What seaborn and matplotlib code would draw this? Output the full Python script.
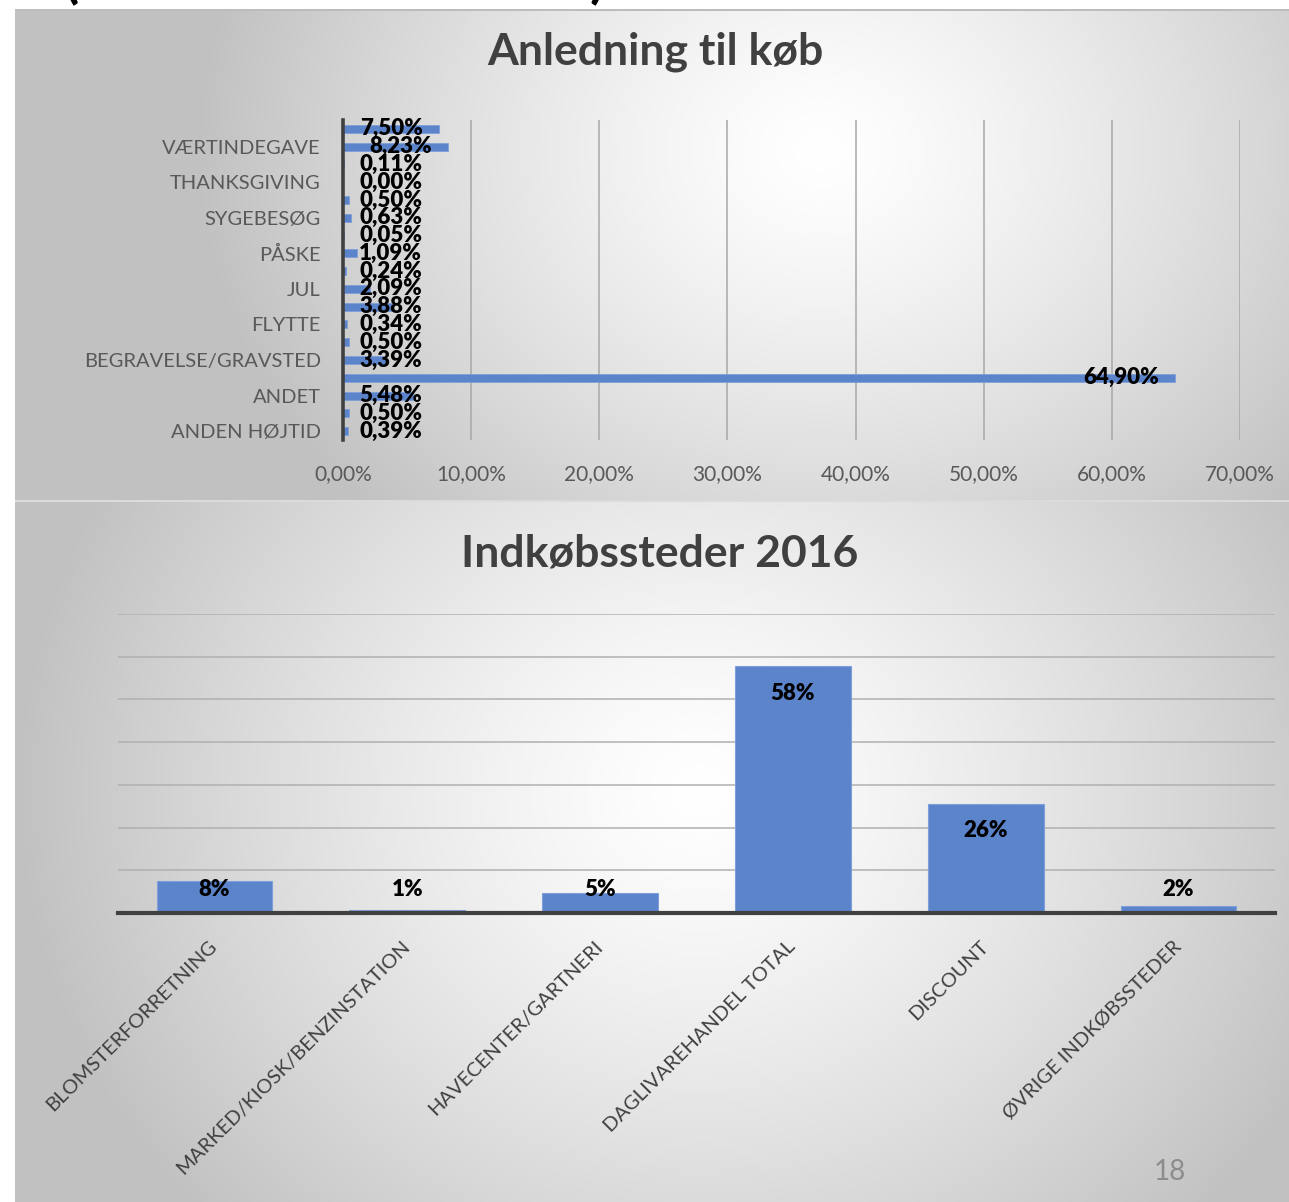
import numpy as np
import pandas as pd
import matplotlib.pyplot as plt
import seaborn as sns

# -------- DATA --------
# top chart, bars listed from top to bottom (only every second category is labelled)
anledning_labels = ["", "VÆRTINDEGAVE", "", "THANKSGIVING", "", "SYGEBESØG", "", "PÅSKE", "",
                    "JUL", "", "FLYTTE", "", "BEGRAVELSE/GRAVSTED", "", "ANDET", "", "ANDEN HØJTID"]
anledning_values = [7.50, 8.23, 0.11, 0.00, 0.50, 0.63, 0.05, 1.09, 0.24,
                    2.09, 3.88, 0.34, 0.50, 3.39, 64.90, 5.48, 0.50, 0.39]
anledning_ticks = [0, 10, 20, 30, 40, 50, 60, 70]

# bottom chart
steder = ["BLOMSTERFORRETNING", "MARKED/KIOSK/BENZINSTATION", "HAVECENTER/GARTNERI",
          "DAGLIVAREHANDEL TOTAL", "DISCOUNT", "ØVRIGE INDKØBSSTEDER"]
steder_values = [7.6, 0.7, 4.6, 57.8, 25.6, 1.6]
steder_grid = [10, 20, 30, 40, 50, 60, 70]

# -------- STYLE --------
BLUE = "#5b84cb"
DARK = "#404040"
TICK = "#595959"
W, H = 1289, 1202

sns.set_style("white")
plt.rcParams["font.family"] = ["Lato", "DejaVu Sans"]

fig = plt.figure(figsize=(W / 100, H / 100), dpi=100)

# -------- BACKGROUND (two slide panels with radial gradient) --------
yy, xx = np.mgrid[0:H, 0:W]
bg = np.ones((H, W))

def panel(y0, y1, cx, cy, rx, ry, gray=0.76):
    d = np.sqrt(((xx - cx) / rx) ** 2 + ((yy - cy) / ry) ** 2)
    v = 1 - (1 - gray) * np.clip(d, 0, 1) ** 1.3
    m = (yy >= y0) & (yy < y1) & (xx >= 15)
    bg[m] = v[m]

panel(9, 501, 820, 150, 620, 520)
panel(502, H, 700, 790, 680, 620)
bg[9:11, 15:] = 0.74
bg[500:502, 15:] = 0.86

axbg = fig.add_axes([0, 0, 1, 1], zorder=-5)
axbg.imshow(np.dstack([bg, bg, bg]), aspect="auto", extent=(0, W, H, 0), interpolation="bilinear")
axbg.axis("off")

# fragments of a heading cut off above the slide (cut off in the reference too)
fig.text(72 / W, 1 + 3 / H, "(", fontsize=40, fontweight="bold", color="black", va="baseline", ha="center")
fig.text(597 / W, 1 + 3 / H, ")", fontsize=40, fontweight="bold", color="black", va="baseline", ha="center")

# -------- TOP CHART: Anledning til køb --------
ax1 = fig.add_axes([343 / W, 1 - 440 / H, (1240 - 343) / W, 320 / H])
ax1.patch.set_alpha(0)
df1 = pd.DataFrame({"key": [f"k{i}" for i in range(len(anledning_values))], "pct": anledning_values})
sns.barplot(data=df1, x="pct", y="key", orient="h", color=BLUE, saturation=1, width=0.45,
            edgecolor="#7f9fd8", linewidth=0.6, ax=ax1)

ax1.set_xlim(0, 70)
ax1.set_xticks(anledning_ticks)
ax1.set_xticklabels([f"{t:.2f}%".replace(".", ",") for t in anledning_ticks])
ax1.set_yticks(range(len(anledning_labels)))
ax1.set_yticklabels(anledning_labels)
ax1.set_xlabel("")
ax1.set_ylabel("")
for t in anledning_ticks[1:]:
    ax1.axvline(t, color="#a8a8a8", lw=1.1, zorder=0)
for s in ["top", "right", "bottom"]:
    ax1.spines[s].set_visible(False)
ax1.spines["left"].set_color(DARK)
ax1.spines["left"].set_linewidth(2.6)
ax1.tick_params(axis="y", length=0, pad=16, labelsize=14.5, labelcolor=TICK)
ax1.tick_params(axis="x", length=0, pad=17, labelsize=15, labelcolor=TICK)

for i, v in enumerate(anledning_values):
    txt = f"{v:.2f}%".replace(".", ",")
    if v > 6:
        ax1.text(v - 1.25, i, txt, ha="right", va="center", fontsize=16, fontweight="heavy", color="black")
    else:
        ax1.text(1.25, i, txt, ha="left", va="center", fontsize=16, fontweight="heavy", color="black")

fig.text(655 / W, 1 - 52 / H, "Anledning til køb", ha="center", va="center",
         fontsize=32, fontweight="bold", color=DARK)

# -------- BOTTOM CHART: Indkøbssteder 2016 --------
ax2 = fig.add_axes([118 / W, 1 - 913 / H, (1275 - 118) / W, (913 - 614) / H])
ax2.patch.set_alpha(0)
df2 = pd.DataFrame({"sted": steder, "pct": steder_values})
sns.barplot(data=df2, x="sted", y="pct", color=BLUE, saturation=1, width=0.6,
            edgecolor="#7f9fd8", linewidth=0.8, ax=ax2)

ax2.set_ylim(0, 70)
ax2.set_xlim(-0.5, len(steder) - 0.5)
ax2.set_yticks([])
ax2.set_xlabel("")
ax2.set_ylabel("")
for g in steder_grid:
    ax2.axhline(g, color="#b0b0b0", lw=1.1, zorder=0)
for s in ["top", "right", "left"]:
    ax2.spines[s].set_visible(False)
ax2.spines["bottom"].set_color(DARK)
ax2.spines["bottom"].set_linewidth(3)
ax2.set_xticks(range(len(steder)))
ax2.set_xticklabels(steder, rotation=45, ha="right", va="center", rotation_mode="anchor")
ax2.tick_params(axis="x", length=0, pad=22, labelsize=14.5, labelcolor=DARK)

for i, v in enumerate(steder_values):
    ax2.text(i, max(v - 6.3, 5.6), f"{v:.0f}%", ha="center", va="center",
             fontsize=16, fontweight="heavy", color="black")

fig.text(660 / W, 1 - 553 / H, "Indkøbssteder 2016", ha="center", va="center",
         fontsize=32, fontweight="bold", color=DARK)

fig.text(1170 / W, 1 - 1172 / H, "18", ha="center", va="center", fontsize=20, color="#8c8c8c")

plt.savefig("out.png", dpi=100)
